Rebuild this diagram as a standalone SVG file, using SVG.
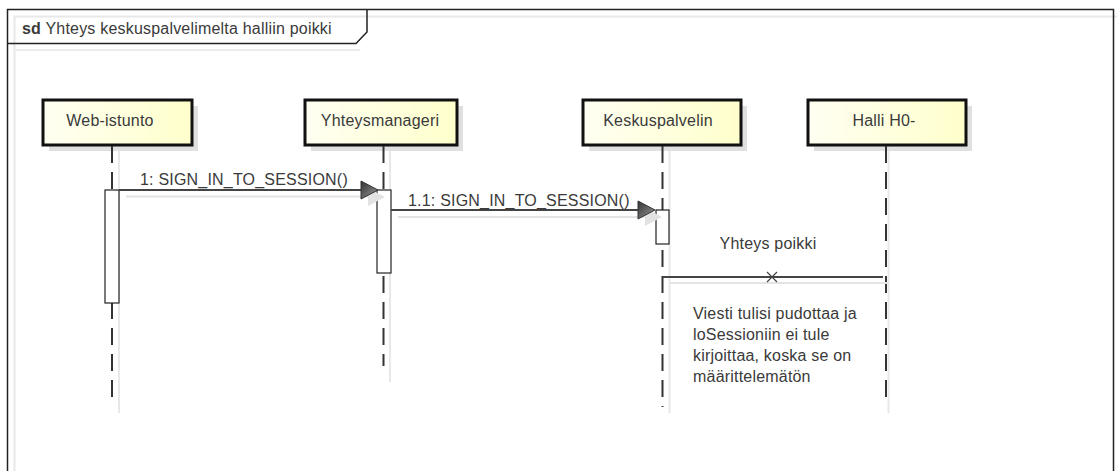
<svg xmlns="http://www.w3.org/2000/svg" width="1117" height="471" viewBox="0 0 1117 471">
<style>
text{font-family:"Liberation Sans",Arial,sans-serif;fill:#3a3a3a;font-size:16px;letter-spacing:0.2px}
.box{stroke:#111;stroke-width:3;fill:url(#yel)}
.sh{fill:#e0e0e0}
.life{stroke:#333;stroke-width:2;stroke-dasharray:17 9;fill:none}
.lsh{stroke:#e8e8e8;stroke-width:2;fill:none}
.act{fill:#fff;stroke:#222;stroke-width:1.2}
.msg{stroke:#444;stroke-width:2;fill:none}
.msh{stroke:#e4e4e4;stroke-width:2;fill:none}
.ah{fill:url(#ahg);stroke:#333;stroke-width:1}
.ahs{fill:#e2e2e2}
</style>
<defs>
<linearGradient id="yel" x1="0" y1="0" x2="1" y2="0">
<stop offset="0" stop-color="#fffff2"/>
<stop offset="1" stop-color="#ffffcc"/>
</linearGradient>
<linearGradient id="ahg" x1="0" y1="0" x2="1" y2="1">
<stop offset="0" stop-color="#333"/>
<stop offset="1" stop-color="#999"/>
</linearGradient>
</defs>
<rect width="1117" height="471" fill="#fff"/>
<g id="frame">
<path d="M14.5,480 V16.5 H1117" stroke="#e8e8e8" stroke-width="2" fill="none"/>
<path d="M14,50 H360" stroke="#ececec" stroke-width="2" fill="none"/>
<path d="M7.5,480 V9.5 H1113.5 V480" stroke="#222" stroke-width="1.5" fill="none"/>
<path d="M7.5,43.5 H356 L367,32 V9.5" stroke="#222" stroke-width="1.5" fill="none"/>
<text x="22" y="34"><tspan font-weight="bold">sd</tspan> Yhteys keskuspalvelimelta halliin poikki</text>
</g>
<g id="web-istunto">
<rect class="sh" x="49" y="106" width="149" height="45"/>
<rect class="box" x="43" y="100" width="149" height="45"/>
<text x="110" y="126" text-anchor="middle">Web-istunto</text>
<line class="lsh" x1="119" y1="151" x2="119" y2="413"/>
<line class="life" x1="112" y1="146" x2="112" y2="406"/>
<rect class="act" x="105" y="190" width="14" height="113"/>
</g>
<g id="yhteysmanageri">
<rect class="sh" x="311" y="106" width="152" height="45"/>
<rect class="box" x="305" y="100" width="152" height="45"/>
<text x="380" y="126" text-anchor="middle">Yhteysmanageri</text>
<line class="lsh" x1="390" y1="151" x2="390" y2="382"/>
<line class="life" x1="383.5" y1="146" x2="383.5" y2="366"/>
<rect class="act" x="377" y="190" width="14" height="83"/>
</g>
<g id="keskuspalvelin">
<rect class="sh" x="589" y="106" width="158" height="45"/>
<rect class="box" x="583" y="100" width="158" height="45"/>
<text x="658" y="126" text-anchor="middle">Keskuspalvelin</text>
<line class="lsh" x1="669.5" y1="151" x2="669.5" y2="413"/>
<line class="life" x1="662.5" y1="146" x2="662.5" y2="407"/>
<rect class="act" x="656" y="210" width="13" height="34"/>
</g>
<g id="halli">
<rect class="sh" x="814" y="106" width="158" height="45"/>
<rect class="box" x="808" y="100" width="158" height="45"/>
<text x="884" y="126" text-anchor="middle">Halli H0-</text>
<line class="lsh" x1="888.5" y1="151" x2="888.5" y2="413"/>
<line class="life" x1="886" y1="146" x2="886" y2="406"/>
</g>
<g id="connectors">
<line class="msh" x1="126" y1="196.5" x2="370" y2="196.5"/>
<polygon class="ahs" points="368,188 385,197 368,206"/>
<line class="msg" x1="119" y1="190" x2="364" y2="190"/>
<polygon class="ah" points="361,181 378,190 361,199"/>
<text x="140" y="185">1: SIGN_IN_TO_SESSION()</text>
<line class="msh" x1="398" y1="217" x2="646" y2="217"/>
<polygon class="ahs" points="645,208 662,217 645,226"/>
<line class="msg" x1="391" y1="210" x2="641" y2="210"/>
<polygon class="ah" points="638,201 655,210 638,219"/>
<text x="408" y="206">1.1: SIGN_IN_TO_SESSION()</text>
<line class="msh" x1="670" y1="283" x2="889" y2="283"/>
<line class="msg" x1="663" y1="277" x2="883" y2="277" stroke-width="1.5"/>
<path d="M767,272 L777,282 M777,272 L767,282" stroke="#444" stroke-width="1.2" fill="none"/>
<text x="768" y="249" text-anchor="middle">Yhteys poikki</text>
<text x="693" y="319">Viesti tulisi pudottaa ja</text>
<text x="693" y="340">loSessioniin ei tule</text>
<text x="693" y="361">kirjoittaa, koska se on</text>
<text x="693" y="382">määrittelemätön</text>
</g>
</svg>
